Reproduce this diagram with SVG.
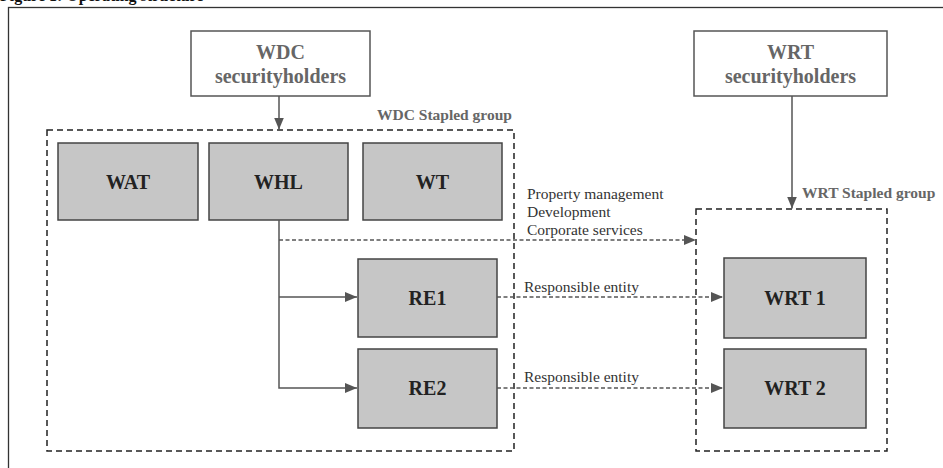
<svg xmlns="http://www.w3.org/2000/svg" width="943" height="468" viewBox="0 0 943 468">
<style>
text{font-family:'Liberation Serif','Times New Roman',Times,serif}
.title{font-weight:bold;font-size:16px;fill:#111}
.frame{fill:none;stroke:#333;stroke-width:1.3}
.holder rect{fill:#fff;stroke:#555;stroke-width:1.5}
.holder text{font-weight:bold;font-size:20px;fill:#666;text-anchor:middle}
.ent rect{fill:#c6c6c6;stroke:#444;stroke-width:1.5}
.ent text{font-weight:bold;font-size:20px;fill:#222;text-anchor:middle}
.grp rect{fill:none;stroke:#222;stroke-width:1.5;stroke-dasharray:6 4}
.grp text{font-weight:bold;font-size:15.5px;fill:#666}
.solid{fill:none;stroke:#555;stroke-width:1.5}
.dash{fill:none;stroke:#555;stroke-width:1.5;stroke-dasharray:4 2.5}
.lbl{font-size:15.5px;fill:#333}
</style>
<defs>
<marker id="ah" viewBox="0 0 12 10" refX="12" refY="5" markerWidth="12" markerHeight="10" markerUnits="userSpaceOnUse" orient="auto">
<path d="M0,0 L12,5 L0,10 Z" fill="#555"/>
</marker>
</defs>
<text class="title" x="0" y="1">Figure 1: Operating structure</text>
<rect class="frame" x="8.5" y="7.5" width="950" height="480"/>

<g id="wdc-group" class="grp">
<rect x="47" y="130" width="467" height="321"/>
<text x="377" y="120">WDC Stapled group</text>
</g>
<g id="wrt-group" class="grp">
<rect x="696" y="209" width="191" height="242"/>
<text x="802" y="198">WRT Stapled group</text>
</g>

<g id="wdc-holders" class="holder">
<rect x="191" y="31" width="179" height="65"/>
<text x="280.5" y="59">WDC</text>
<text x="280.5" y="83">securityholders</text>
</g>
<g id="wrt-holders" class="holder">
<rect x="694" y="31" width="193" height="65"/>
<text x="790.5" y="59">WRT</text>
<text x="790.5" y="83">securityholders</text>
</g>

<g id="wat" class="ent"><rect x="58" y="143" width="140" height="77"/><text x="128" y="189">WAT</text></g>
<g id="whl" class="ent"><rect x="209" y="143" width="139" height="77"/><text x="278.5" y="189">WHL</text></g>
<g id="wt" class="ent"><rect x="363" y="143" width="139" height="77"/><text x="432.5" y="189">WT</text></g>
<g id="re1" class="ent"><rect x="358" y="259" width="139" height="78"/><text x="427.5" y="305">RE1</text></g>
<g id="re2" class="ent"><rect x="358" y="349" width="139" height="79"/><text x="427.5" y="395">RE2</text></g>
<g id="wrt1" class="ent"><rect x="724" y="258" width="142" height="80"/><text x="795" y="305">WRT 1</text></g>
<g id="wrt2" class="ent"><rect x="724" y="349" width="142" height="79"/><text x="795" y="395">WRT 2</text></g>

<g id="connectors">
<line class="solid" x1="279" y1="96" x2="279" y2="129.5" marker-end="url(#ah)"/>
<line class="solid" x1="792" y1="96" x2="792" y2="208.5" marker-end="url(#ah)"/>
<polyline class="solid" points="279,220 279,388 357,388" marker-end="url(#ah)"/>
<line class="solid" x1="279" y1="297" x2="357" y2="297" marker-end="url(#ah)"/>
<line class="dash" x1="279" y1="240" x2="696" y2="240" marker-end="url(#ah)"/>
<line class="dash" x1="497" y1="297" x2="723" y2="297" marker-end="url(#ah)"/>
<line class="dash" x1="497" y1="388" x2="723" y2="388" marker-end="url(#ah)"/>
<text class="lbl" x="527" y="199">Property management</text>
<text class="lbl" x="527" y="217">Development</text>
<text class="lbl" x="527" y="235">Corporate services</text>
<text class="lbl" x="524" y="292">Responsible entity</text>
<text class="lbl" x="524" y="382">Responsible entity</text>
</g>
</svg>
